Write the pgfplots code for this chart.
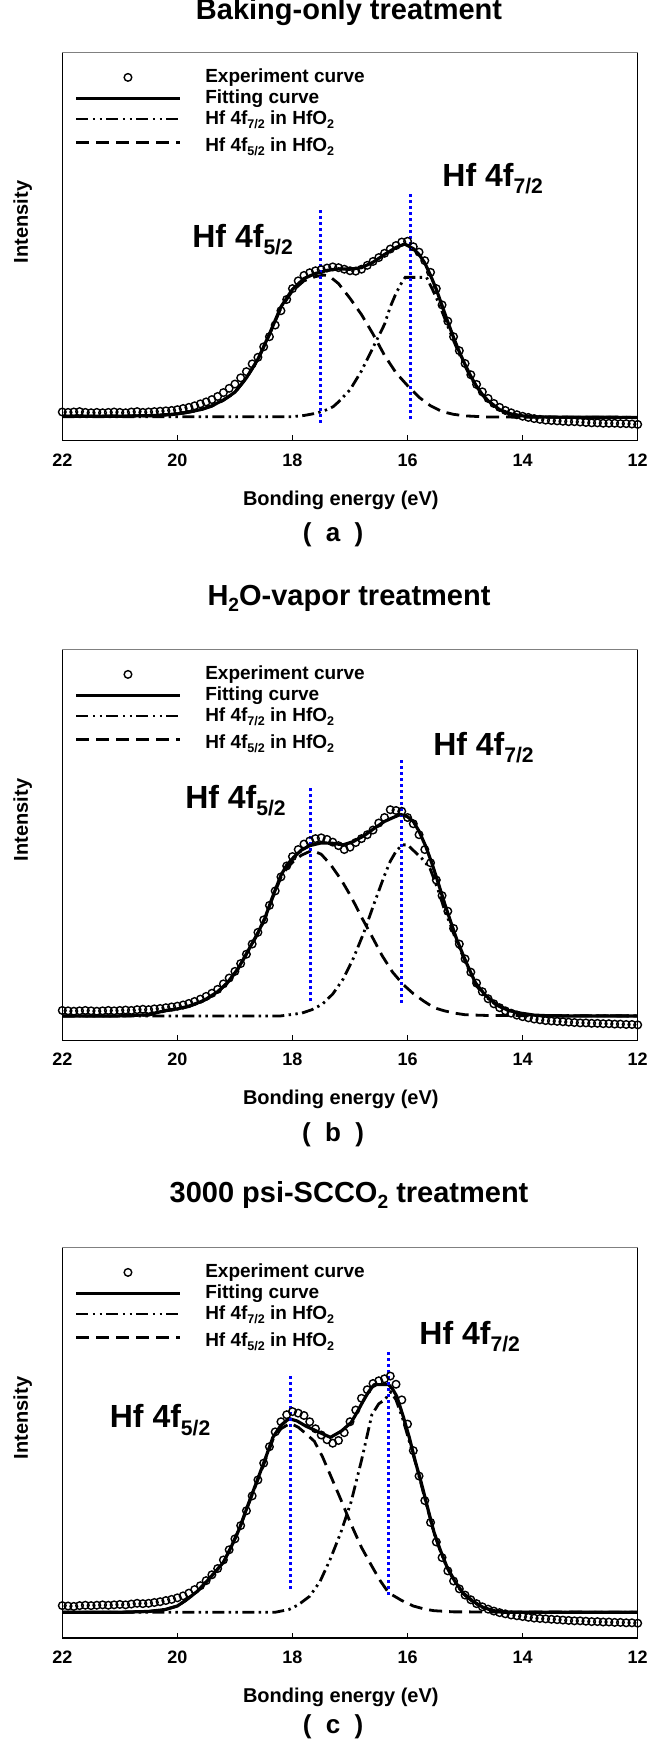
\documentclass[border=0pt]{standalone}
\usepackage{fontspec}
\setmainfont{Liberation Sans}
\usepackage{graphicx}
\usepackage{pgfplots}
\pgfplotsset{compat=1.18}
\newcommand{\sbs}[1]{\raisebox{-0.22em}{\scalebox{0.66}{#1}}}
\pgfplotsset{
  panel/.style={
    scale only axis, width=287.7pt, anchor=north west,
    xmin=12, xmax=22, x dir=reverse, ymin=0, ymax=100,
    xtick={12,14,16,18,20,22}, ytick=\empty,
    xtick pos=left, tick align=inside, major tick length=2.75pt,
    axis line style={line width=0.6pt},
    every tick/.style={line width=0.6pt, black},
    xticklabel style={font=\bfseries\fontsize{9}{10}\selectfont, anchor=base, yshift=-12.65pt},
    /pgf/number format/assume math mode=true,
    clip=false,
    title style={font=\bfseries\fontsize{14.5}{17}\selectfont, at={(axis description cs:0.4983,1)}, anchor=base},
    xlabel={Bonding energy (eV)},
    xlabel style={font=\bfseries\fontsize{10}{12}\selectfont, at={(axis description cs:0.484,0)}, anchor=base, yshift=-32.15pt},
    ylabel={Intensity},
    ylabel style={font=\bfseries\fontsize{10}{12}\selectfont, at={(axis description cs:-0.0688,0.5637)}, anchor=center},
    legend style={draw=none, fill=none, at={(axis description cs:0.021,0.959)}, anchor=north west,
      font=\bfseries\fontsize{9.5}{11}\selectfont, row sep=2pt, inner sep=0pt, nodes={inner sep=0pt},
      /tikz/every odd column/.append style={column sep=12pt}},
    legend cell align=left,
    legend image code/.code={\draw[##1] (0pt,0pt) -- (51.65pt,0pt);},
  },
  expt/.style={only marks, mark=o, mark size=1.9pt, mark options={line width=0.7pt, black, solid},
    legend image code/.code={\draw[##1, mark repeat=2, mark phase=2] plot coordinates {(0pt,0pt) (25.8pt,0pt) (51.65pt,0pt)};}},
  fitl/.style={black, line width=1.6pt, line join=round, mark=none},
  dfive/.style={black, line width=1.4pt, dash pattern=on 6.5pt off 3.5pt, mark=none},
  dseven/.style={black, line width=1.4pt, dash pattern=on 6pt off 2.2pt on 1.2pt off 2.2pt on 1.2pt off 2.2pt, mark=none},
  bl/.style={blue, line width=1.5pt, dash pattern=on 1.5pt off 1.5pt, mark=none, forget plot},
}
\newcommand{\peakfont}{\bfseries\fontsize{16}{19}\selectfont}
\newcommand{\letterfont}{\bfseries\fontsize{13}{15}\selectfont}
\begin{document}
\begin{tikzpicture}
% ---------------- (a) ----------------
\begin{axis}[panel, at={(31.15pt,-26.35pt)}, height=194pt,
  title={Baking-only treatment}, title style={yshift=10.5pt}]
\addplot[expt] coordinates {
(22.0,7.4)(21.9,7.3)(21.8,7.4)(21.7,7.5)(21.6,7.3)(21.5,7.2)(21.4,7.3)(21.3,7.2)(21.2,7.3)(21.1,7.4)
(21.0,7.3)(20.9,7.2)(20.8,7.4)(20.7,7.5)(20.6,7.3)(20.5,7.4)(20.4,7.5)(20.3,7.6)(20.2,7.7)(20.1,7.8)
(20.0,8.0)(19.9,8.3)(19.8,8.6)(19.7,9.0)(19.6,9.5)(19.5,10.0)(19.4,10.6)(19.3,11.4)(19.2,12.4)(19.1,13.5)
(19.0,14.6)(18.9,16.2)(18.8,17.8)(18.7,19.8)(18.6,21.5)(18.5,24.2)(18.4,26.8)(18.3,29.8)(18.2,33.5)(18.1,36.4)
(18.0,39.2)(17.9,41.2)(17.8,42.6)(17.7,43.3)(17.6,43.8)(17.5,44.1)(17.4,44.5)(17.3,44.8)(17.2,44.6)(17.1,44.2)
(17.0,43.8)(16.9,43.7)(16.8,44.2)(16.7,45.2)(16.6,46.2)(16.5,47.2)(16.4,48.3)(16.3,49.4)(16.2,50.3)(16.1,51.2)
(16.0,51.4)(15.9,50.0)(15.8,48.6)(15.7,46.4)(15.6,43.4)(15.5,39.2)(15.4,35.0)(15.3,30.8)(15.2,26.8)(15.1,23.2)
(15.0,19.9)(14.9,17.0)(14.8,14.5)(14.7,12.6)(14.6,10.9)(14.5,9.6)(14.4,8.6)(14.3,7.8)(14.2,7.2)(14.1,6.7)
(14.0,6.3)(13.9,6.0)(13.8,5.7)(13.7,5.5)(13.6,5.3)(13.5,5.2)(13.4,5.1)(13.3,5.0)(13.2,4.9)(13.1,4.9)
(13.0,4.8)(12.9,4.7)(12.8,4.6)(12.7,4.6)(12.6,4.5)(12.5,4.5)(12.4,4.5)(12.3,4.4)(12.2,4.4)(12.1,4.3)(12.0,4.2)};
\addplot[fitl] coordinates {
(22.0,6.3)(21.0,6.3)(20.4,6.5)(20.0,6.9)(19.8,7.4)(19.6,8.0)(19.4,9.0)(19.2,10.5)(19.0,12.5)(18.8,16.2)
(18.6,21.0)(18.4,27.5)(18.2,34.5)(18.0,39.0)(17.8,41.8)(17.6,43.1)(17.4,43.9)(17.2,44.3)(17.0,44.2)(16.8,44.6)
(16.6,46.0)(16.4,48.0)(16.2,49.8)(16.05,50.7)(15.9,49.5)(15.8,48.0)(15.7,45.8)(15.6,42.6)(15.5,39.0)(15.4,34.8)
(15.3,30.6)(15.2,26.6)(15.1,22.9)(15.0,19.6)(14.9,16.6)(14.8,14.0)(14.7,11.9)(14.6,10.3)(14.4,8.0)(14.2,6.9)
(14.0,6.4)(13.7,6.1)(12.0,6.0)};
\addplot[dseven] coordinates {
(22.0,6.2)(18.0,6.2)(17.8,6.5)(17.58,7.1)(17.4,8.0)(17.29,8.8)(17.2,10.0)(17.0,13.1)(16.8,18.0)(16.6,24.0)
(16.4,30.0)(16.3,34.5)(16.2,38.0)(16.1,40.8)(16.04,42.1)(15.67,42.1)(15.6,40.0)(15.5,36.9)(15.4,33.3)(15.3,29.5)
(15.2,25.8)(15.1,22.3)(15.0,19.2)(14.9,16.3)(14.8,13.8)(14.7,11.8)(14.6,10.2)(14.4,7.9)(14.2,6.8)(14.0,6.3)
(13.7,6.1)(12.0,6.0)};
\addplot[dfive] coordinates {
(22.0,6.3)(20.4,6.4)(20.0,6.8)(19.6,7.9)(19.4,8.9)(19.2,10.4)(19.0,12.4)(18.8,16.1)(18.6,20.9)(18.4,27.3)
(18.2,34.2)(18.0,38.6)(17.8,41.2)(17.6,42.3)(17.45,42.7)(17.35,42.3)(17.2,40.5)(17.0,36.7)(16.8,32.5)(16.6,27.5)
(16.4,22.0)(16.2,17.5)(16.0,14.2)(15.8,11.2)(15.6,9.0)(15.4,7.5)(15.2,6.8)(15.0,6.4)(14.6,6.1)(12.0,6.0)};
\addplot[bl] coordinates {(17.52,4.6)(17.52,59.9)};
\addplot[bl] coordinates {(15.95,5.7)(15.95,64.4)};
\legend{Experiment curve, Fitting curve, Hf 4f\sbs{7/2} in HfO\sbs{2}, Hf 4f\sbs{5/2} in HfO\sbs{2}\rule{0pt}{10pt}}
\draw[gray, line width=0.7pt] (rel axis cs:0,1) -- (rel axis cs:1,1);
\node[anchor=base west, inner sep=0pt, font=\peakfont] at (axis cs:15.40,65.5) {Hf 4f\sbs{7/2}};
\node[anchor=base west, inner sep=0pt, font=\peakfont] at (axis cs:19.746,49.9) {Hf 4f\sbs{5/2}};
\node[anchor=base, inner sep=0pt, font=\letterfont, yshift=-50.5pt] at (axis description cs:0.4705,0) {(\hspace{0.55em}a\hspace{0.55em})};
\end{axis}
% ---------------- (b) ----------------
\begin{axis}[panel, at={(31.15pt,-324.8pt)}, height=195.25pt,
  title={H\sbs{2}O-vapor treatment}, title style={yshift=16pt}]
\addplot[expt] coordinates {
(22.0,7.6)(21.9,7.5)(21.8,7.4)(21.7,7.5)(21.6,7.6)(21.5,7.5)(21.4,7.4)(21.3,7.5)(21.2,7.6)(21.1,7.5)
(21.0,7.6)(20.9,7.7)(20.8,7.6)(20.7,7.8)(20.6,7.9)(20.5,7.8)(20.4,8.0)(20.3,8.1)(20.2,8.3)(20.1,8.5)
(20.0,8.7)(19.9,9.0)(19.8,9.4)(19.7,9.9)(19.6,10.5)(19.5,11.2)(19.4,12.0)(19.3,13.0)(19.2,14.4)(19.1,15.9)
(19.0,17.6)(18.9,19.6)(18.8,22.0)(18.7,24.6)(18.6,27.6)(18.5,30.8)(18.4,34.5)(18.3,38.2)(18.2,41.8)(18.1,44.6)
(18.0,47.0)(17.9,48.8)(17.8,50.2)(17.7,51.0)(17.6,51.6)(17.5,51.8)(17.4,51.4)(17.3,50.7)(17.2,49.8)(17.1,48.8)
(17.0,49.4)(16.9,50.6)(16.8,51.6)(16.7,52.6)(16.6,53.8)(16.5,55.6)(16.4,57.0)(16.3,59.0)(16.2,58.8)(16.1,58.6)
(16.0,57.0)(15.9,55.4)(15.8,52.6)(15.7,48.8)(15.6,45.4)(15.5,41.0)(15.4,37.0)(15.3,33.0)(15.2,28.6)(15.1,24.6)
(15.0,20.8)(14.9,17.4)(14.8,14.6)(14.7,12.4)(14.6,10.6)(14.5,9.3)(14.4,8.3)(14.3,7.5)(14.2,6.9)(14.1,6.4)
(14.0,6.0)(13.9,5.7)(13.8,5.4)(13.7,5.2)(13.6,5.0)(13.5,4.9)(13.4,4.8)(13.3,4.7)(13.2,4.6)(13.1,4.5)
(13.0,4.4)(12.9,4.4)(12.8,4.3)(12.7,4.3)(12.6,4.2)(12.5,4.2)(12.4,4.1)(12.3,4.1)(12.2,4.0)(12.1,4.0)(12.0,3.9)};
\addplot[fitl] coordinates {
(22.0,6.2)(21.0,6.2)(20.5,6.5)(20.2,7.6)(20.0,8.0)(19.8,8.7)(19.6,9.8)(19.49,10.6)(19.3,12.4)(19.13,14.7)
(18.95,18.2)(18.77,22.9)(18.6,27.5)(18.48,31.2)(18.35,36.5)(18.2,42.2)(18.1,44.8)(17.98,46.8)(17.85,48.6)(17.7,49.8)
(17.5,50.5)(17.3,50.4)(17.12,50.0)(16.95,50.8)(16.76,52.3)(16.6,54.0)(16.4,56.0)(16.25,57.0)(16.12,57.8)(16.0,57.2)
(15.9,56.0)(15.8,53.5)(15.68,49.5)(15.57,45.0)(15.47,40.4)(15.36,35.2)(15.25,30.3)(15.15,26.0)(15.04,22.0)(14.93,18.2)
(14.82,14.7)(14.65,11.5)(14.46,9.2)(14.25,7.6)(14.03,6.9)(13.8,6.4)(13.5,6.2)(12.0,6.2)};
\addplot[dseven] coordinates {
(22.0,6.2)(18.2,6.2)(17.84,6.9)(17.66,7.8)(17.48,9.2)(17.3,11.8)(17.12,15.6)(16.94,21.0)(16.76,27.5)(16.58,35.0)
(16.4,42.2)(16.3,45.8)(16.19,48.6)(16.08,50.0)(16.0,50.0)(15.9,48.6)(15.75,46.5)(15.61,44.0)(15.47,38.5)(15.36,33.5)
(15.25,29.4)(15.15,25.2)(15.04,21.6)(14.93,17.8)(14.82,14.2)(14.65,11.2)(14.46,9.0)(14.25,7.5)(14.03,6.8)(13.8,6.3)(12.0,6.2)};
\addplot[dfive] coordinates {
(22.0,6.2)(21.0,6.2)(20.5,6.4)(20.2,7.5)(20.0,7.9)(19.8,8.6)(19.6,9.7)(19.49,10.5)(19.3,12.3)(19.13,14.6)
(18.95,18.1)(18.77,22.8)(18.6,27.3)(18.48,31.0)(18.35,36.2)(18.2,41.7)(18.1,44.0)(17.98,45.8)(17.85,47.3)(17.66,48.6)
(17.5,47.6)(17.34,45.0)(17.15,41.0)(16.98,36.7)(16.8,31.5)(16.62,26.6)(16.44,21.6)(16.26,17.4)(16.08,14.3)(15.9,11.9)
(15.72,10.0)(15.54,8.3)(15.36,7.5)(15.18,6.9)(15.0,6.5)(14.6,6.3)(12.0,6.2)};
\addplot[bl] coordinates {(17.68,9.9)(17.68,65.1)};
\addplot[bl] coordinates {(16.1,9.6)(16.1,72.0)};
\legend{Experiment curve, Fitting curve, Hf 4f\sbs{7/2} in HfO\sbs{2}, Hf 4f\sbs{5/2} in HfO\sbs{2}\rule{0pt}{10pt}}
\draw[gray, line width=0.7pt] (rel axis cs:0,1) -- (rel axis cs:1,1);
\node[anchor=base west, inner sep=0pt, font=\peakfont] at (axis cs:15.56,73.0) {Hf 4f\sbs{7/2}};
\node[anchor=base west, inner sep=0pt, font=\peakfont] at (axis cs:19.87,59.2) {Hf 4f\sbs{5/2}};
\node[anchor=base, inner sep=0pt, font=\letterfont, yshift=-50.5pt] at (axis description cs:0.4705,0) {(\hspace{0.55em}b\hspace{0.55em})};
\end{axis}
% ---------------- (c) ----------------
\begin{axis}[panel, at={(31.15pt,-623.8pt)}, height=195.2pt,
  title={3000 psi-SCCO\sbs{2} treatment}, title style={yshift=16.5pt}]
\addplot[expt] coordinates {
(22.0,8.3)(21.9,8.2)(21.8,8.1)(21.7,8.3)(21.6,8.4)(21.5,8.3)(21.4,8.4)(21.3,8.5)(21.2,8.4)(21.1,8.5)
(21.0,8.6)(20.9,8.5)(20.8,8.7)(20.7,8.9)(20.6,8.8)(20.5,8.9)(20.4,9.1)(20.3,9.3)(20.2,9.6)(20.1,9.9)
(20.0,10.3)(19.9,10.8)(19.8,11.5)(19.7,12.4)(19.6,13.4)(19.5,14.7)(19.4,16.2)(19.3,17.8)(19.2,20.0)(19.1,22.6)
(19.0,25.4)(18.9,28.8)(18.8,32.6)(18.7,36.4)(18.6,40.5)(18.5,44.8)(18.4,49.0)(18.3,52.8)(18.2,55.4)(18.1,57.2)
(18.0,58.0)(17.9,57.6)(17.8,57.0)(17.7,55.4)(17.6,53.6)(17.5,52.0)(17.4,50.8)(17.3,49.9)(17.2,50.6)(17.1,52.6)
(17.0,55.4)(16.9,58.4)(16.8,61.4)(16.7,63.6)(16.6,65.2)(16.5,65.9)(16.4,66.4)(16.3,67.1)(16.2,65.0)(16.1,61.0)
(16.0,54.8)(15.9,48.0)(15.8,41.5)(15.7,35.2)(15.6,29.6)(15.5,24.6)(15.4,20.6)(15.3,17.2)(15.2,14.6)(15.1,12.6)
(15.0,11.0)(14.9,9.8)(14.8,8.8)(14.7,8.0)(14.6,7.4)(14.5,6.9)(14.4,6.5)(14.3,6.2)(14.2,5.9)(14.1,5.7)
(14.0,5.5)(13.9,5.3)(13.8,5.1)(13.7,5.0)(13.6,4.9)(13.5,4.8)(13.4,4.7)(13.3,4.6)(13.2,4.5)(13.1,4.4)
(13.0,4.4)(12.9,4.3)(12.8,4.2)(12.7,4.2)(12.6,4.1)(12.5,4.1)(12.4,4.0)(12.3,4.0)(12.2,3.9)(12.1,3.9)(12.0,3.8)};
\addplot[fitl] coordinates {
(22.0,6.6)(21.0,6.6)(20.5,6.8)(20.21,7.3)(20.0,8.2)(19.85,9.7)(19.65,12.0)(19.49,14.5)(19.35,16.8)(19.2,19.4)
(19.06,23.5)(18.92,28.1)(18.78,33.8)(18.63,39.7)(18.48,45.6)(18.34,51.4)(18.2,54.5)(18.06,56.2)(17.92,55.6)(17.77,54.3)
(17.55,52.8)(17.34,51.4)(17.15,53.0)(16.98,55.2)(16.87,58.0)(16.76,61.0)(16.67,63.2)(16.58,64.9)(16.33,64.9)(16.26,63.8)
(16.19,62.0)(16.08,57.0)(15.97,51.4)(15.87,45.5)(15.76,39.7)(15.65,33.3)(15.54,27.1)(15.43,22.5)(15.32,18.4)(15.18,14.6)
(15.04,11.6)(14.86,9.4)(14.68,7.8)(14.5,7.0)(14.32,6.6)(12.0,6.6)};
\addplot[dseven] coordinates {
(22.0,6.6)(18.3,6.6)(18.06,7.3)(17.9,8.5)(17.7,10.7)(17.52,14.5)(17.34,20.3)(17.16,27.0)(16.98,34.9)(16.8,45.5)
(16.62,57.2)(16.5,60.0)(16.4,61.0)(16.29,63.0)(16.2,61.0)(16.08,56.0)(15.97,50.4)(15.86,44.8)(15.76,39.2)(15.65,33.0)
(15.54,26.9)(15.43,22.3)(15.32,18.2)(15.18,14.4)(15.04,11.4)(14.86,9.2)(14.68,7.7)(14.5,6.9)(14.32,6.6)(12.0,6.6)};
\addplot[dfive] coordinates {
(22.0,6.6)(21.0,6.6)(20.5,6.8)(20.21,7.3)(20.0,8.2)(19.85,9.7)(19.65,12.0)(19.49,14.5)(19.35,16.8)(19.2,19.4)
(19.06,23.4)(18.92,28.0)(18.78,33.6)(18.63,39.4)(18.48,45.2)(18.34,50.8)(18.2,53.6)(18.04,55.0)(17.9,54.0)(17.77,52.4)
(17.62,50.4)(17.48,46.5)(17.34,41.7)(17.16,35.5)(16.98,29.1)(16.8,23.2)(16.62,18.4)(16.48,14.8)(16.33,11.6)(16.1,9.6)
(15.9,8.2)(15.7,7.4)(15.54,7.0)(15.2,6.7)(12.0,6.6)};
\addplot[bl] coordinates {(18.04,12.6)(18.04,67.5)};
\addplot[bl] coordinates {(16.33,11.1)(16.33,74.1)};
\legend{Experiment curve, Fitting curve, Hf 4f\sbs{7/2} in HfO\sbs{2}, Hf 4f\sbs{5/2} in HfO\sbs{2}\rule{0pt}{10pt}}
\draw[gray, line width=0.7pt] (rel axis cs:0,1) -- (rel axis cs:1,1);
\node[anchor=base west, inner sep=0pt, font=\peakfont] at (axis cs:15.80,75.1) {Hf 4f\sbs{7/2}};
\node[anchor=base west, inner sep=0pt, font=\peakfont] at (axis cs:21.18,53.8) {Hf 4f\sbs{5/2}};
\node[anchor=base, inner sep=0pt, font=\letterfont, yshift=-47.5pt] at (axis description cs:0.4705,0) {(\hspace{0.55em}c\hspace{0.55em})};
\end{axis}
\pgfresetboundingbox
\path[use as bounding box] (0pt,0pt) rectangle (324pt,-870.5pt);
\end{tikzpicture}
\end{document}
